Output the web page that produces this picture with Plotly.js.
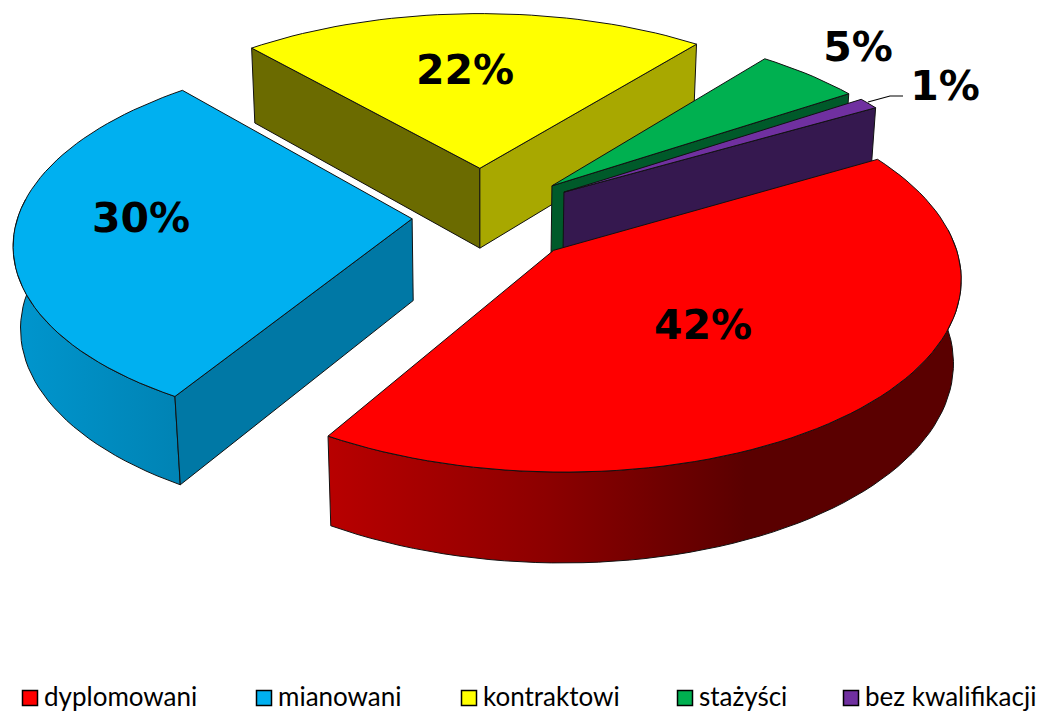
<!DOCTYPE html>
<html><head><meta charset="utf-8">
<script src="https://cdn.plot.ly/plotly-3.0.1.min.js"></script>
<style>html,body{margin:0;padding:0;background:#fff}</style></head>
<body><div id="chart" style="width:1042px;height:713px"></div>
<script>
// --- data ---
const categories = ['dyplomowani','mianowani','kontraktowi','stażyści','bez kwalifikacji'];
const values = [42,30,22,5,1];
const labels = ['42%','30%','22%','5%','1%'];
// --- styles ---
const topColors = ['#FF0000','#00B0F0','#FFFF00','#00B050','#7030A0'];
const explode = [100,70,105,97,98];
const labelX = [703,141,465,858,945];
const labelY = [329,222,74,51,90];
const swatchX = [30,264,469,685,851];
const swatchY = 698;
// --- 3D projection ---
const view = {cx:482, cy:216, R:394, T:94, tilt:28, D:2800, start:-30};
const sinT = Math.sin(view.tilt*Math.PI/180), cosT = Math.cos(view.tilt*Math.PI/180);
function project(X,Y,Z){
  const d = Y*cosT + Z*sinT, s = view.D/(view.D-d);
  return [view.cx + X*s, view.cy + (Y*sinT - Z*cosT)*s];
}
const total = values.reduce((a,b)=>a+b,0);
let acc = view.start;
const slices = values.map((v,i)=>{
  const a0 = acc, a1 = acc + v/total*360; acc = a1;
  const m = (a0+a1)/2*Math.PI/180;
  return {a0,a1,ox:explode[i]*Math.cos(m),oy:explode[i]*Math.sin(m)};
});
function rim(sl,deg,Z){
  const r = deg*Math.PI/180;
  return project(sl.ox+view.R*Math.cos(r), sl.oy+view.R*Math.sin(r), Z);
}
function poly(pts,fill,extra){
  pts = pts.concat([pts[0]]);
  return Object.assign({type:'scatter',mode:'lines',x:pts.map(p=>p[0]),y:pts.map(p=>p[1]),
    fill:'toself',fillcolor:fill,line:{color:'#111',width:1},hoverinfo:'skip',showlegend:false},extra||{});
}
function arc(sl,a0,a1,Z){
  const n = Math.max(3,Math.ceil(Math.abs(a1-a0)/2)), pts=[];
  for(let k=0;k<=n;k++) pts.push(rim(sl,a0+(a1-a0)*k/n,Z));
  return pts;
}
const wall = (sl,deg,fill)=>{
  const a=project(sl.ox,sl.oy,0), b=rim(sl,deg,0), c=rim(sl,deg,-view.T), d=project(sl.ox,sl.oy,-view.T);
  return poly([a,b,c,d],fill);
};
const outerWall = (sl,a0,a1,stops)=>{
  const top=arc(sl,a0,a1,0), bot=arc(sl,a0,a1,-view.T).reverse();
  return poly(top.concat(bot),stops[0][1],{fillgradient:{type:'horizontal',colorscale:stops}});
};
const topFace = (sl,i)=>poly([project(sl.ox,sl.oy,0)].concat(arc(sl,sl.a0,sl.a1,0)),topColors[i]);
const [red,blue,yellow,green,purple] = slices;
const traces = [
  wall(yellow,yellow.a0,'#6B6B00'), wall(yellow,yellow.a1,'#A8A800'), topFace(yellow,2),
  wall(green,green.a1,'#005A2A'), topFace(green,3),
  wall(purple,purple.a1,'#35184F'), topFace(purple,4),
  outerWall(blue,blue.a0,186,[[0,'#0096CE'],[1,'#0083B4']]),
  wall(blue,blue.a0,'#0078A5'), topFace(blue,1),
  outerWall(red,-6,red.a1,[[0,'#B80000'],[0.35,'#8C0000'],[0.66,'#5A0000'],[1,'#5A0000']]),
  topFace(red,0),
  {type:'scatter',mode:'lines',x:[903,890,868],y:[96,96,102],line:{color:'#000',width:1.2},hoverinfo:'skip',showlegend:false},
  {type:'scatter',mode:'text',x:labelX,y:labelY,text:labels,textposition:'middle center',
   textfont:{family:'DejaVu Sans',size:41,color:'#000',weight:700},hoverinfo:'skip',showlegend:false},
];
categories.forEach((c,i)=>traces.push({type:'scatter',mode:'markers',name:c,x:[swatchX[i]],y:[swatchY],
  marker:{symbol:'square',size:15,color:topColors[i],line:{color:'#000',width:1.5}},hoverinfo:'skip',showlegend:false}));
traces.push({type:'scatter',mode:'text',x:swatchX.map(v=>v+14),y:swatchX.map(()=>swatchY+1),text:categories,
  textposition:'middle right',textfont:{family:'Lato',size:26,color:'#000'},hoverinfo:'skip',showlegend:false});
const axis = {visible:false,fixedrange:true};
Plotly.newPlot('chart',traces,{
  width:1042,height:713,margin:{l:0,r:0,t:0,b:0},paper_bgcolor:'#fff',plot_bgcolor:'#fff',showlegend:false,
  xaxis:Object.assign({range:[0,1042]},axis),yaxis:Object.assign({range:[713,0]},axis)
},{displayModeBar:false,staticPlot:true});
</script></body></html>
